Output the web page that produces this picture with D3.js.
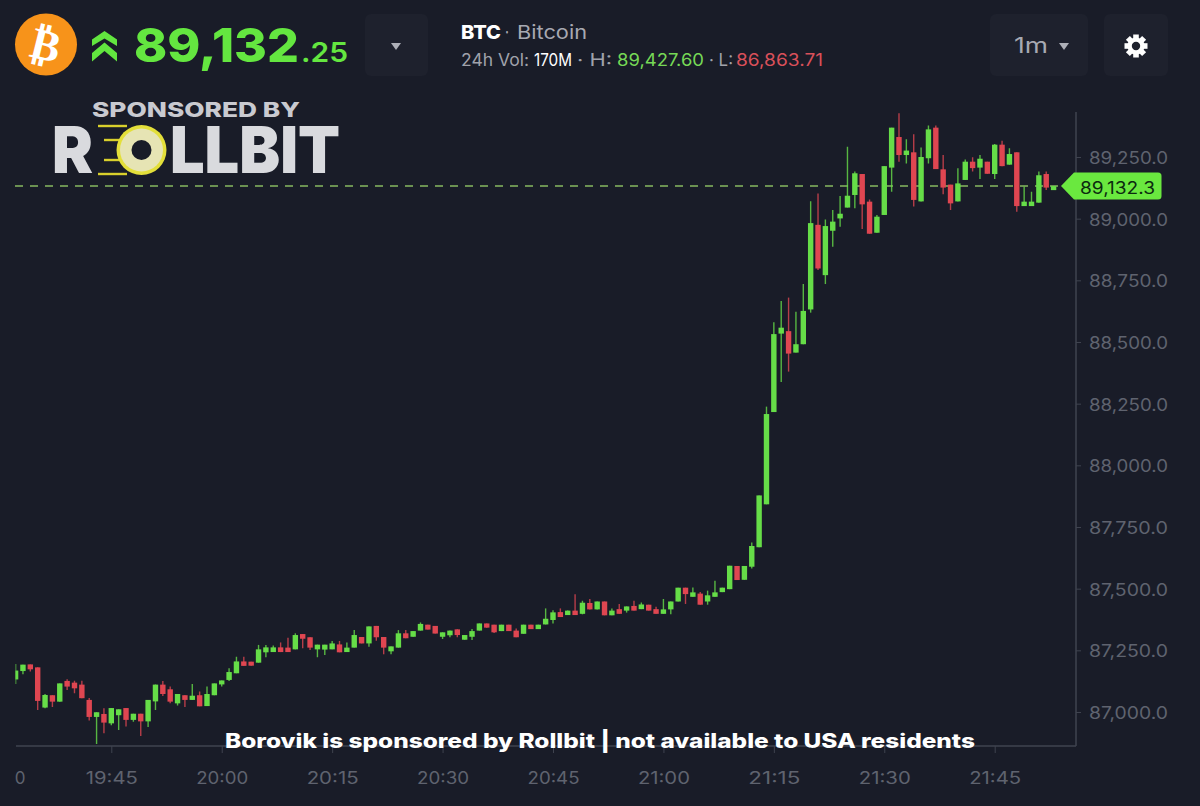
<!DOCTYPE html>
<html><head><meta charset="utf-8">
<script src="https://cdn.jsdelivr.net/npm/d3@7/dist/d3.min.js"></script>
<style>html,body{margin:0;padding:0;background:#191c28;overflow:hidden}svg{display:block}text{font-family:Inter,"Open Sans",sans-serif}</style>
</head><body><div id="c"></div>
<script>
const firstMinute = "19:32";
const opens = [87132,87166,87193,87181,87018,87068,87042,87126,87119,87111,
87049,86980,86992,86954,86987,87016,86968,86993,86962,87043,
87111,87092,87035,87068,87049,87068,87024,87068,87112,87130,
87157,87205,87204,87200,87242,87243,87262,87261,87254,87316,
87303,87254,87253,87254,87274,87243,87261,87304,87278,87349,
87304,87246,87261,87319,87305,87330,87354,87349,87305,87311,
87335,87293,87305,87330,87359,87354,87328,87354,87330,87317,
87354,87336,87355,87373,87405,87393,87411,87398,87442,87416,
87448,87392,87417,87411,87430,87417,87435,87417,87398,87416,
87448,87504,87467,87480,87448,87467,87486,87498,87592,87536,
87589,87668,87842,88216,88534,88544,88457,88491,88632,88975,
88771,88951,89001,89045,89096,89181,89069,88943,89015,89207,
89331,89258,89269,89070,89245,89369,89200,89138,89070,89157,
89231,89207,89231,89181,89300,89219,89269,89051,89051,89065,
89181,89118];
const highs = [87195,87192,87193,87181,87073,87068,87116,87133,87127,87127,
87057,86999,87015,87016,87011,87016,86993,86993,87049,87111,
87126,87103,87073,87068,87114,87083,87103,87116,87128,87177,
87224,87224,87204,87272,87272,87270,87282,87301,87319,87316,
87303,87273,87273,87288,87288,87282,87332,87304,87347,87349,
87304,87266,87332,87332,87328,87363,87354,87349,87323,87330,
87335,87312,87336,87359,87359,87354,87354,87354,87339,87354,
87354,87354,87420,87413,87420,87411,87477,87451,87458,87448,
87448,87420,87438,87428,87451,87444,87435,87427,87458,87448,
87504,87504,87505,87486,87492,87532,87504,87593,87592,87592,
87687,87878,88238,88580,88666,88680,88623,88735,89071,89102,
88997,89035,89092,89292,89191,89181,89078,89015,89213,89369,
89427,89322,89342,89289,89378,89378,89258,89138,89204,89240,
89249,89258,89231,89303,89316,89285,89269,89130,89109,89191,
89191,89132];
const lows = [87114,87153,87164,87008,87015,87020,87042,87089,87076,87056,
86966,86870,86914,86946,86927,86941,86960,86903,86939,87008,
87065,87035,87026,87020,87049,87023,87024,87068,87103,87126,
87157,87187,87188,87200,87222,87243,87243,87243,87254,87258,
87251,87222,87231,87254,87242,87243,87261,87278,87265,87289,
87234,87234,87261,87299,87305,87330,87334,87318,87296,87303,
87303,87293,87292,87330,87342,87320,87328,87328,87303,87317,
87336,87336,87355,87359,87385,87393,87393,87396,87416,87416,
87392,87392,87398,87403,87411,87417,87411,87398,87398,87396,
87448,87438,87467,87435,87435,87467,87486,87498,87535,87536,
87582,87668,87842,88216,88338,88380,88457,88491,88619,88792,
88735,88886,88967,89045,89042,88958,88939,88943,89015,89109,
89231,89224,89049,89070,89224,89201,89099,89035,89070,89157,
89191,89161,89182,89161,89213,89219,89028,89051,89051,89065,
89116,89118];
const closes = [87168,87192,87173,87045,87069,87042,87116,87103,87096,87056,
86980,86999,86957,87016,87011,86968,86993,86962,87049,87111,
87073,87042,87073,87049,87066,87023,87073,87116,87128,87162,
87205,87187,87188,87254,87262,87262,87243,87243,87312,87297,
87261,87273,87273,87278,87242,87261,87312,87278,87347,87303,
87261,87266,87319,87299,87328,87357,87334,87318,87323,87330,
87312,87312,87328,87359,87342,87323,87354,87328,87303,87354,
87336,87354,87378,87404,87385,87411,87393,87443,87416,87448,
87392,87411,87398,87428,87411,87436,87411,87398,87416,87448,
87504,87478,87485,87435,87473,87485,87504,87593,87535,87592,
87673,87878,88208,88532,88558,88453,88491,88626,88982,88798,
88970,88988,89020,89093,89184,89058,88939,89008,89213,89369,
89258,89276,89076,89250,89362,89201,89126,89062,89143,89231,
89205,89243,89182,89300,89213,89262,89051,89069,89069,89176,
89126,89132];
const yTicks = [87000,87250,87500,87750,88000,88250,88500,88750,89000,89250];
const xTickLabels = ["19:45","20:00","20:15","20:30","20:45","21:00","21:15","21:30","21:45"];
const lastPrice = 89132.3;

const W=1200,H=806;
const bg="#191c28", up="#66dd48", down="#df4651", axisCol="#3f434f", lab="#5f636f", btn="#1e212d";
const svg=d3.select("#c").append("svg").attr("width",W).attr("height",H);
svg.append("rect").attr("width",W).attr("height",H).attr("fill",bg);

const t=d3.timeParse("%H:%M");
const idx=opens.map((_,i)=>i);
const x=d3.scaleTime().domain([t("19:45"),t("21:45")]).range([111.3,994.7]);
const y=d3.scaleLinear().domain([87000,89250]).range([712,157]);
const time=i=>d3.timeMinute.offset(t(firstMinute),i);

svg.append("clipPath").attr("id","plot").append("rect").attr("x",15.5).attr("y",100).attr("width",1060).attr("height",646);

// axes
const yAxis=d3.axisRight(y).tickValues(yTicks).tickSize(5).tickPadding(8).tickFormat(d3.format(",.1f"));
const yG=svg.append("g").attr("transform","translate(1076,0)").call(yAxis);
yG.select(".domain").remove();
yG.selectAll("line").attr("stroke",axisCol);
yG.selectAll("text").attr("fill",lab).attr("font-size",17).attr("x",92).attr("dy","0.38em").attr("text-anchor","end")
  .attr("textLength",79).attr("lengthAdjust","spacingAndGlyphs");
svg.append("line").attr("x1",1076).attr("x2",1076).attr("y1",112).attr("y2",746).attr("stroke",axisCol).attr("stroke-width",1.5);

const xAxis=d3.axisBottom(x).tickValues(xTickLabels.map(t)).tickSize(7).tickPadding(19).tickFormat(d3.timeFormat("%H:%M"));
const xG=svg.append("g").attr("transform","translate(0,746)").call(xAxis);
xG.select(".domain").remove();
xG.selectAll("line").attr("stroke",axisCol);
xG.selectAll("text").attr("fill",lab).attr("font-size",17).attr("textLength",52).attr("lengthAdjust","spacingAndGlyphs");
svg.append("line").attr("x1",16).attr("x2",1076).attr("y1",746).attr("y2",746).attr("stroke",axisCol).attr("stroke-width",1.5);
svg.append("text").attr("x",20).attr("y",784).attr("text-anchor","middle").attr("fill",lab).attr("font-size",17).text("0");

// last price line
svg.append("line").attr("x1",15).attr("x2",1061).attr("y1",y(lastPrice)).attr("y2",y(lastPrice))
  .attr("stroke","#86b860").attr("stroke-width",1.5).attr("stroke-dasharray","8 7");

// candles
const g=svg.append("g").attr("clip-path","url(#plot)");
const col=i=>closes[i]>=opens[i]?up:down;
g.selectAll("line.w").data(idx).join("line").attr("class","w")
  .attr("x1",i=>x(time(i))).attr("x2",i=>x(time(i)))
  .attr("y1",i=>y(highs[i])).attr("y2",i=>y(lows[i]))
  .attr("stroke",col).attr("stroke-width",1.4).attr("stroke-opacity",.8);
g.selectAll("rect.b").data(idx).join("rect").attr("class","b")
  .attr("x",i=>x(time(i))-2.7).attr("width",5.4)
  .attr("y",i=>y(Math.max(opens[i],closes[i])))
  .attr("height",i=>Math.max(4,Math.abs(y(opens[i])-y(closes[i]))))
  .attr("fill",col);

// price flag
svg.append("path").attr("d","M1061,186 L1074,172.5 H1158 Q1161.5,172.5 1161.5,176 V196 Q1161.5,199.5 1158,199.5 H1074 Z").attr("fill","#6ae83f");
svg.append("text").attr("x",1080).attr("y",193.5).attr("font-size",17).attr("fill","#0c2b10")
  .attr("textLength",75).attr("lengthAdjust","spacingAndGlyphs").text(d3.format(",.1f")(lastPrice));

// overlay caption
svg.append("text").attr("x",225).attr("y",748).attr("font-size",20).attr("font-weight",800).attr("fill","#fff")
  .attr("textLength",750).attr("lengthAdjust","spacingAndGlyphs").text("Borovik is sponsored by Rollbit | not available to USA residents");

// header
const h=svg.append("g");
h.append("circle").attr("cx",46).attr("cy",44.5).attr("r",31).attr("fill","#f7931a");
h.append("text").attr("x",46).attr("y",60).attr("text-anchor","middle").attr("font-size",44).attr("font-weight",700).attr("fill","#fff")
  .attr("transform","rotate(14 46 44.5)").style("font-family","DejaVu Sans").text("\u20BF");
h.append("path").attr("d","M104.5,31 L117,39.5 V46 L104.5,38.5 L92,46 V39.5 Z M104.5,42.5 L117,53 V61.5 L104.5,51 L92,61.5 V53 Z").attr("fill","#62e63f");
h.append("text").attr("x",134).attr("y",62).attr("font-size",46).attr("font-weight",800).attr("fill","#64e640").attr("textLength",165).attr("lengthAdjust","spacingAndGlyphs").text("89,132");
h.append("text").attr("x",301).attr("y",62).attr("font-size",27).attr("font-weight",600).attr("fill","#64e640").attr("textLength",47).attr("lengthAdjust","spacingAndGlyphs").text(".25");
[[365,63],[990,98],[1104,64]].forEach(([bx,bw])=>h.append("rect").attr("x",bx).attr("y",14).attr("width",bw).attr("height",62).attr("rx",6).attr("fill",btn));
h.append("path").attr("d","M391,43 H401 L396,50 Z").attr("fill","#aeb0b8");
h.append("path").attr("d","M1059,43 H1069 L1064,50 Z").attr("fill","#aeb0b8");
h.append("text").attr("x",1014).attr("y",52.5).attr("font-size",21).attr("fill","#a7a9b2").attr("textLength",34).attr("lengthAdjust","spacingAndGlyphs").text("1m");
// gear
const gear=h.append("g").attr("transform","translate(1136,46)");
d3.range(8).forEach(k=>gear.append("rect").attr("x",-2.8).attr("y",-11.5).attr("width",5.6).attr("height",6).attr("fill","#fff").attr("transform",`rotate(${k*45})`));
gear.append("circle").attr("r",6.4).attr("fill","none").attr("stroke","#fff").attr("stroke-width",4.4);

const T=(tx,ty,s,fill,len,o={})=>h.append("text").attr("x",tx).attr("y",ty).attr("font-size",o.fs||17).attr("font-weight",o.w||400).attr("fill",fill)
  .attr("textLength",len).attr("lengthAdjust","spacingAndGlyphs").text(s);
T(461,38.5,"BTC","#fff",40,{fs:19,w:800});
T(505,38.5,"\u00B7","#a7a9b2",4,{fs:19});
T(517,38.5,"Bitcoin","#a7a9b2",70,{fs:19});
T(461,66,"24h Vol:","#a0a2ab",68);
T(534,66,"170M","#fff",38);
T(577,66,"\u00B7 H:","#a0a2ab",35);
T(617,66,"89,427.60","#76d856",87);
T(709,66,"\u00B7 L:","#a0a2ab",24);
T(736,66,"86,863.71","#d9505a",87);

// sponsor logo
const l=svg.append("g");
l.append("text").attr("x",92).attr("y",117).attr("font-size",20.5).attr("font-weight",800).attr("fill","#c9cad0").attr("textLength",208).attr("lengthAdjust","spacingAndGlyphs").text("SPONSORED BY");
l.append("text").attr("x",52).attr("y",173).attr("font-size",65).attr("font-weight",900).attr("fill","#d9dade").attr("textLength",41).attr("lengthAdjust","spacingAndGlyphs").text("R");
l.append("text").attr("x",170).attr("y",173).attr("font-size",65).attr("font-weight",900).attr("fill","#d9dade").attr("textLength",170).attr("lengthAdjust","spacingAndGlyphs").text("LLBIT");
[[98,127,126],[104,122,140],[104,122,160],[98,127,174]].forEach(([a,b,yy])=>l.append("line").attr("x1",a).attr("x2",b).attr("y1",yy).attr("y2",yy).attr("stroke","#d8cf2c").attr("stroke-width",2.4));
l.append("circle").attr("cx",141.5).attr("cy",150).attr("r",25).attr("fill","#e3df3a");
l.append("circle").attr("cx",141.5).attr("cy",150).attr("r",21.5).attr("fill","#e6e4b4");
l.append("circle").attr("cx",141.5).attr("cy",150).attr("r",10).attr("fill",bg);
</script></body></html>
